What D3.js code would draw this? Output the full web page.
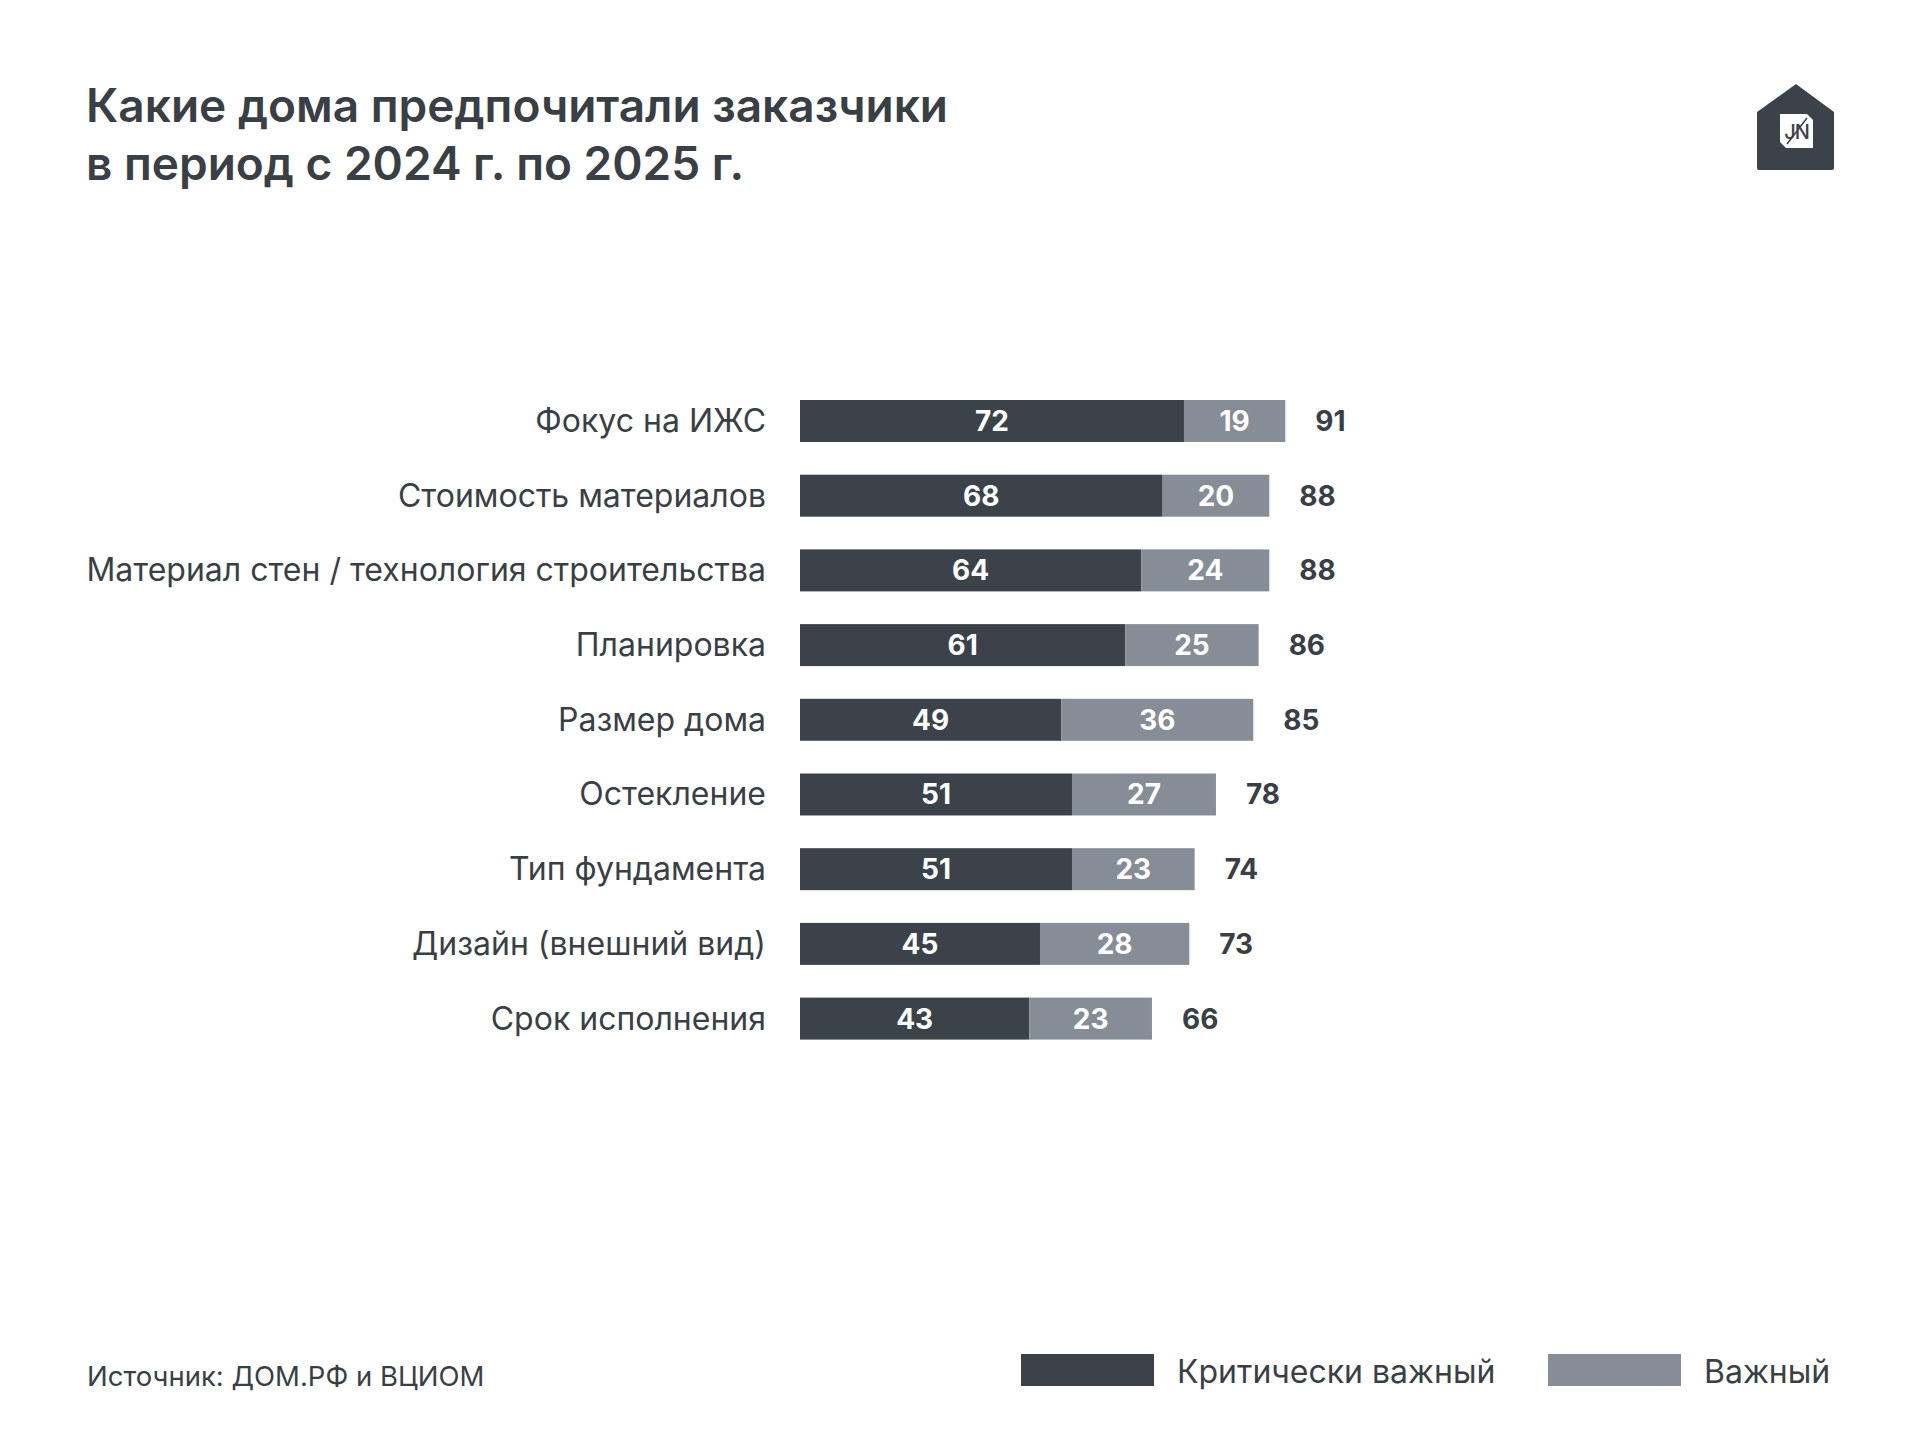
<!DOCTYPE html>
<html>
<head>
<meta charset="utf-8">
<script src="https://cdn.jsdelivr.net/npm/d3@7"></script>
<style>
  body { margin: 0; background: #fff; }
  svg { display: block; }
  text { font-family: Inter, "Noto Sans", sans-serif; }
</style>
</head>
<body>
<div id="chart"></div>
<script>
// data
var categories = [
    "Фокус на ИЖС",
    "Стоимость материалов",
    "Материал стен / технология строительства",
    "Планировка",
    "Размер дома",
    "Остекление",
    "Тип фундамента",
    "Дизайн (внешний вид)",
    "Срок исполнения"
];
var critical = [72, 68, 64, 61, 49, 51, 51, 45, 43];
var important = [19, 20, 24, 25, 36, 27, 23, 28, 23];
var totals = [91, 88, 88, 86, 85, 78, 74, 73, 66];
var seriesNames = ["Критически важный", "Важный"];

var titleLines = ["Какие дома предпочитали заказчики", "в период с 2024 г. по 2025 г."];
var sourceText = "Источник: ДОМ.РФ и ВЦИОМ";

var colDark = "#3c424a";
var colLight = "#868d96";
var colText = "#3a3f46";

var width = 1920, height = 1440;

var svg = d3.select("#chart")
    .append("svg")
    .attr("width", width)
    .attr("height", height);

// title
svg.append("g").selectAll("text")
    .data(titleLines)
    .enter()
    .append("text")
    .attr("x", 86)
    .attr("y", function (d, i) { return 122 + i * 58; })
    .attr("font-size", 46)
    .attr("font-weight", 600)
    .attr("letter-spacing", 0)
    .attr("fill", colText)
    .text(function (d) { return d; });

// logo (house with square)
var logo = svg.append("g").attr("transform", "translate(1757,84)");
logo.append("path")
    .attr("d", "M39,0 L77,28 L77,84 Q77,86 75,86 L2,86 Q0,86 0,84 L0,28 Z")
    .attr("fill", colDark);
logo.append("path")
    .attr("d", "M23,30 L50,30 L56,36 L56,64 L29,64 L23,58 Z")
    .attr("fill", "#fff");
logo.append("text")
    .attr("x", 39.5)
    .attr("y", 55)
    .attr("text-anchor", "middle")
    .attr("font-size", 20)
    .attr("font-weight", 500)
    .attr("letter-spacing", -1)
    .attr("fill", colDark)
    .text("JN");
logo.append("line")
    .attr("x1", 30).attr("y1", 60).attr("x2", 50).attr("y2", 34)
    .attr("stroke", colDark).attr("stroke-width", 1.5);

// scales
var x = d3.scaleLinear()
    .domain([0, 100])
    .range([800, 1333.3]);

var step = 74.7;
var y = d3.scaleBand()
    .domain(categories)
    .range([400 - step * 0.219, 400 - step * 0.219 + step * categories.length])
    .paddingInner(0.438)
    .paddingOuter(0.219);

var rows = categories.map(function (c, i) {
    return { name: c, crit: critical[i], imp: important[i], total: totals[i] };
});

var row = svg.append("g").selectAll("g")
    .data(rows)
    .enter()
    .append("g")
    .attr("transform", function (d) { return "translate(0," + y(d.name) + ")"; });

var bh = y.bandwidth();

row.append("rect")
    .attr("x", x(0))
    .attr("y", 0)
    .attr("width", function (d) { return x(d.crit) - x(0); })
    .attr("height", bh)
    .attr("fill", colDark);

row.append("rect")
    .attr("x", function (d) { return x(d.crit); })
    .attr("y", 0)
    .attr("width", function (d) { return x(d.crit + d.imp) - x(d.crit); })
    .attr("height", bh)
    .attr("fill", colLight);

// category labels
row.append("text")
    .attr("x", 766)
    .attr("y", bh / 2 + 11)
    .attr("text-anchor", "end")
    .attr("font-size", 32)
    .attr("fill", colText)
    .text(function (d) { return d.name; });

// values inside
row.append("text")
    .attr("x", function (d) { return (x(0) + x(d.crit)) / 2; })
    .attr("y", bh / 2 + 10)
    .attr("text-anchor", "middle")
    .attr("font-size", 28)
    .attr("font-weight", 700)
    .attr("fill", "#fff")
    .text(function (d) { return d.crit; });

row.append("text")
    .attr("x", function (d) { return (x(d.crit) + x(d.crit + d.imp)) / 2; })
    .attr("y", bh / 2 + 10)
    .attr("text-anchor", "middle")
    .attr("font-size", 28)
    .attr("font-weight", 700)
    .attr("fill", "#fff")
    .text(function (d) { return d.imp; });

// totals
row.append("text")
    .attr("x", function (d) { return x(d.total) + 30; })
    .attr("y", bh / 2 + 10)
    .attr("font-size", 28)
    .attr("font-weight", 700)
    .attr("fill", colText)
    .text(function (d) { return d.total; });

// source
svg.append("text")
    .attr("x", 87)
    .attr("y", 1386)
    .attr("font-size", 27.5)
    .attr("fill", colText)
    .text(sourceText);

// legend
var legendX = [1021, 1548];
var legend = svg.append("g").selectAll("g")
    .data(seriesNames)
    .enter()
    .append("g")
    .attr("transform", function (d, i) { return "translate(" + legendX[i] + ",1354)"; });

legend.append("rect")
    .attr("width", 133)
    .attr("height", 32)
    .attr("fill", function (d, i) { return i === 0 ? colDark : colLight; });

legend.append("text")
    .attr("x", 156)
    .attr("y", 29)
    .attr("font-size", 32)
    .attr("fill", colText)
    .text(function (d) { return d; });
</script>
</body>
</html>
